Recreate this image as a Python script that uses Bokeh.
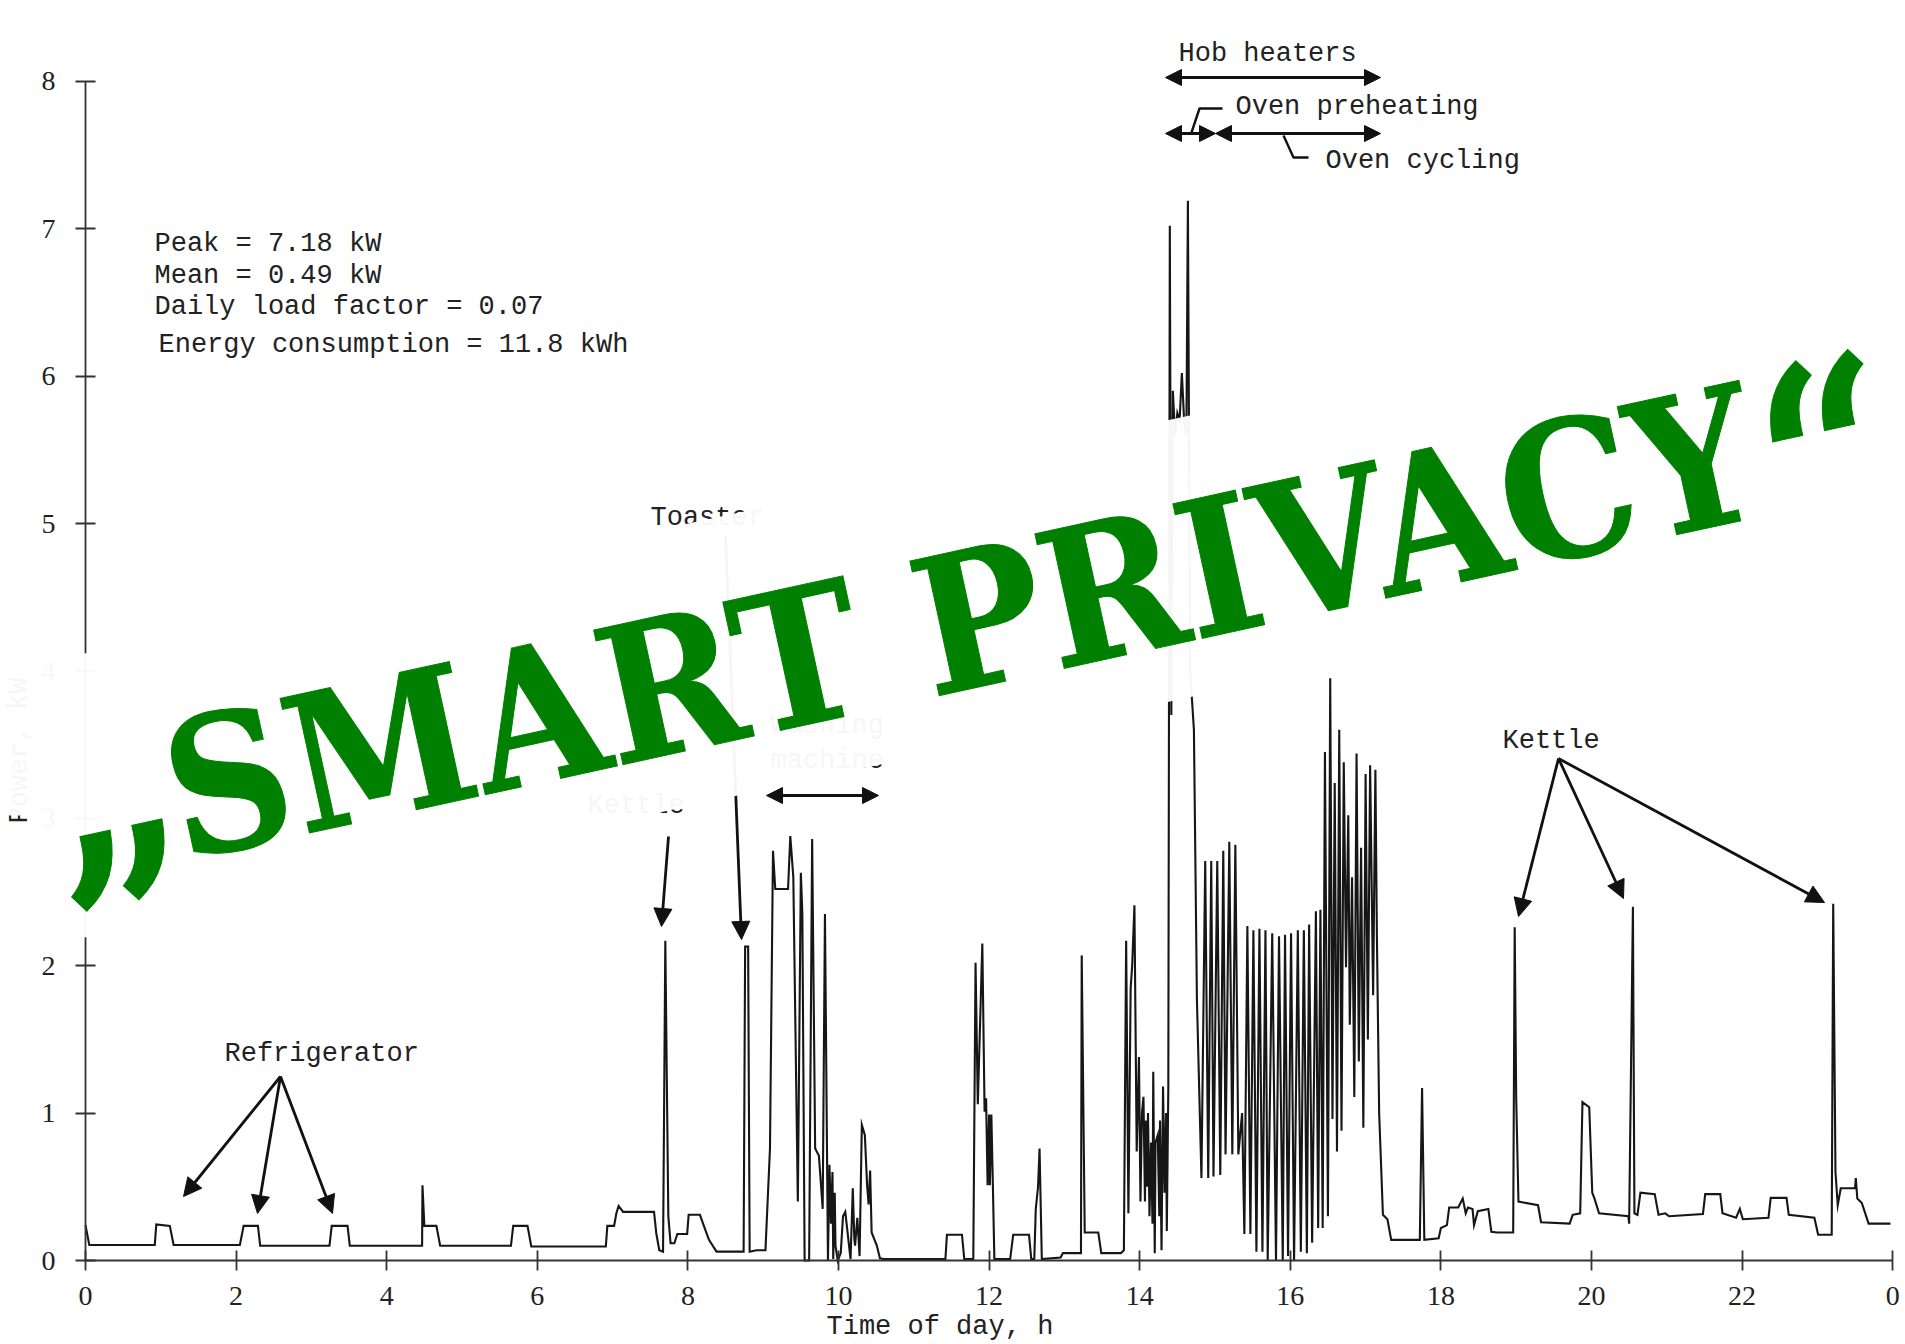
from bokeh.plotting import figure
from bokeh.embed import file_html
from bokeh.resources import INLINE
from bokeh.core.properties import value
from bokeh.models import Range1d, FixedTicker, Arrow, NormalHead

# Trace: time of day (h) and power (kW)
night_h = [0, 0.05, 0.92, 0.94, 1.12, 1.17, 2.05, 2.10, 2.29, 2.32, 3.24, 3.27, 3.48, 3.51, 4.47, 4.475, 4.50, 4.66, 4.71,
           5.65, 5.68, 5.87, 5.92, 6.91, 6.93, 7.02, 7.05, 7.08, 7.14, 7.55, 7.58, 7.62, 7.67]
night_kw = [0.24, 0.105, 0.105, 0.245, 0.235, 0.105, 0.105, 0.235, 0.235, 0.10, 0.10, 0.235, 0.235, 0.10, 0.10, 0.51, 0.235, 0.235, 0.10,
            0.10, 0.235, 0.235, 0.095, 0.095, 0.235, 0.235, 0.32, 0.37, 0.33, 0.33, 0.185, 0.07, 0.06]
morning_h = [7.70, 7.74, 7.77, 7.82, 7.86, 7.99, 8.01, 8.16, 8.23, 8.28, 8.38, 8.74, 8.76, 8.80, 8.82, 8.91, 9.03, 9.09, 9.13, 9.16,
             9.33, 9.36, 9.40, 9.46, 9.50, 9.52, 9.55, 9.61, 9.65, 9.69, 9.74, 9.79, 9.82, 9.86, 9.88, 9.90, 9.92, 9.93, 9.95, 9.96, 9.99,
             10.03, 10.06, 10.09, 10.16, 10.19, 10.21, 10.22, 10.25, 10.28, 10.31, 10.35, 10.38, 10.40, 10.42, 10.44, 10.51, 10.55]
morning_kw = [2.17, 0.30, 0.117, 0.117, 0.18, 0.18, 0.31, 0.31, 0.21, 0.14, 0.06, 0.06, 2.13, 2.13, 0.06, 0.07, 0.07, 0.76, 2.78, 2.52,
              2.52, 2.88, 2.60, 0.40, 2.63, 2.35, 0.0, 0.0, 2.86, 0.76, 0.71, 0.35, 2.35, 0.0, 0.65, 0.25, 0.60, 0.01, 0.46, 0.10, 0.0,
              0.05, 0.30, 0.33, 0.01, 0.49, 0.15, 0.10, 0.29, 0.03, 0.92, 0.85, 0.51, 0.38, 0.61, 0.19, 0.10, 0.015]
midday_h = [11.42, 11.44, 11.64, 11.67, 11.79, 11.82, 11.85, 11.91, 11.94, 11.96, 11.98, 12.0, 12.01, 12.03, 12.05, 12.07, 12.28, 12.32, 12.53, 12.56,
            12.60, 12.62, 12.65, 12.67, 12.70, 12.95, 12.98, 13.22, 13.23, 13.27, 13.45, 13.49, 13.75, 13.79]
midday_kw = [0.01, 0.175, 0.175, 0.01, 0.01, 2.02, 1.06, 2.15, 1.01, 1.10, 0.51, 0.99, 0.51, 0.99, 0.51, 0.01, 0.01, 0.175, 0.175, 0.01,
             0.01, 0.35, 0.50, 0.76, 0.01, 0.02, 0.05, 0.05, 2.07, 0.19, 0.19, 0.05, 0.05, 0.07]
hob_h = [13.82, 13.85, 13.88, 13.90, 13.93, 13.96, 13.99, 14.01, 14.03, 14.05, 14.07, 14.08, 14.10, 14.11, 14.13, 14.15, 14.17, 14.18, 14.20, 14.21, 14.24,
         14.26, 14.27, 14.29, 14.31, 14.33, 14.35, 14.36, 14.38, 14.40, 14.42, 14.44, 14.47, 14.50, 14.53, 14.56, 14.59, 14.62, 14.64, 14.67, 14.72, 14.76]
hob_kw = [2.17, 0.32, 1.85, 2.0, 2.41, 0.74, 1.38, 0.40, 1.00, 1.11, 0.40, 0.95, 0.50, 1.0, 0.30, 0.80, 0.25, 1.28, 0.05, 0.80, 0.85, 0.30, 0.95, 0.07, 1.18, 0.46, 1.0, 0.20, 1.17, 7.02, 3.7, 5.9, 5.6, 5.75, 5.7, 6.02, 5.7, 5.6, 7.19, 4.0, 3.6, 1.77]
oven_h = [14.82, 14.87, 14.91, 14.95, 14.98, 15.03, 15.07, 15.11, 15.14, 15.19, 15.23, 15.27, 15.31, 15.36, 15.39, 15.43, 15.47, 15.51, 15.55,
          15.59, 15.63, 15.67, 15.70, 15.76, 15.81, 15.85, 15.90, 15.93, 15.97, 16.01, 16.05, 16.10, 16.14, 16.18, 16.22, 16.25, 16.29, 16.34,
          16.37, 16.40, 16.43, 16.46, 16.50, 16.53, 16.56, 16.59, 16.62, 16.65, 16.68, 16.71, 16.74, 16.77, 16.79, 16.82, 16.85, 16.88, 16.91, 16.94,
          16.97, 17.00, 17.03, 17.06, 17.10, 17.13, 17.15, 17.18]
oven_kw = [0.56, 2.71, 0.56, 2.71, 0.57, 2.71, 0.58, 2.78, 0.72, 2.84, 0.72, 2.82, 0.72, 1.0, 0.18, 2.27, 0.18, 2.24, 0.06,
           2.25, 0.06, 2.24, 0.0, 2.22, 0.0, 2.20, 0.0, 2.21, 0.03, 2.22, 0.0, 2.24, 0.06, 2.24, 0.05, 2.28, 0.12, 2.37,
           0.22, 2.38, 0.22, 3.45, 0.30, 3.95, 0.96, 3.24, 0.74, 3.60, 0.88, 3.38, 1.99, 3.02, 1.60, 2.6, 1.11, 3.44, 1.35, 2.80,
           0.90, 3.30, 1.50, 3.36, 1.80, 3.33, 2.20, 1.00]
evening_h = [17.23, 17.29, 17.34, 17.72, 17.75, 17.78, 17.97, 18.0, 18.08, 18.11, 18.23, 18.29, 18.33, 18.36, 18.42, 18.44, 18.49, 18.63, 18.67, 18.75,
             18.96, 18.98, 19.00, 19.03, 19.29, 19.33, 19.71, 19.75, 19.85, 19.88, 19.97, 20.01, 20.04, 20.10, 20.49, 20.50, 20.55, 20.57, 20.61,
             20.65, 20.84, 20.89, 20.98, 21.03, 21.48, 21.51, 21.71, 21.74, 21.92, 21.97, 22.01, 22.35, 22.38, 22.59, 22.62, 22.96, 23.01, 23.19,
             23.21, 23.24, 23.27, 23.31, 23.50, 23.51, 23.53, 23.59, 23.68, 23.97]
evening_kw = [0.31, 0.28, 0.14, 0.14, 1.17, 0.14, 0.15, 0.22, 0.24, 0.36, 0.36, 0.42, 0.32, 0.36, 0.35, 0.24, 0.335, 0.35, 0.195, 0.19,
              0.19, 2.26, 1.10, 0.40, 0.375, 0.26, 0.25, 0.31, 0.32, 1.075, 1.04, 0.46, 0.42, 0.32, 0.30, 0.25, 2.40, 0.32, 0.31,
              0.46, 0.45, 0.31, 0.32, 0.30, 0.315, 0.45, 0.45, 0.32, 0.29, 0.35, 0.28, 0.29, 0.425, 0.425, 0.31, 0.29, 0.175, 0.175,
              2.42, 0.60, 0.375, 0.49, 0.49, 0.56, 0.42, 0.39, 0.25, 0.25]

x_ticks = [0, 2, 4, 6, 8, 10, 12, 14, 16, 18, 20, 22, 24]
x_tick_labels = ["0", "2", "4", "6", "8", "10", "12", "14", "16", "18", "20", "22", "0"]
y_ticks = [0, 1, 2, 3, 4, 5, 6, 7, 8]

stats_lines = ["Peak = 7.18 kW", "Mean = 0.49 kW", "Daily load factor = 0.07", "Energy consumption = 11.8 kWh"]
stamp_words = "SMART PRIVACY"
stamp_open = "\u201e"
stamp_close = "\u201c"

# page-pixel calibration of the axes
PX_H = 75.3
PX_KW = 147.4
X0 = 85
Y0 = 1260


def hx(px):
    return (px - X0) / PX_H


def ky(py):
    return (Y0 - py) / PX_KW


time_h = night_h + morning_h + [10.6] + midday_h + hob_h + oven_h + evening_h
power_kw = night_kw + morning_kw + [0.01] + midday_kw + hob_kw + oven_kw + evening_kw

W, H = 1905, 1344
p = figure(width=W, height=H, output_backend="svg", toolbar_location=None,
           x_range=Range1d(hx(0), hx(W)), y_range=Range1d(ky(H), ky(0)),
           min_border=0, min_border_left=0, min_border_right=0, min_border_top=0, min_border_bottom=0)
p.outline_line_color = None
p.grid.visible = False
p.background_fill_color = "white"

for ax in (p.xaxis[0], p.yaxis[0]):
    ax.fixed_location = 0
    ax.axis_line_color = "#333333"
    ax.axis_line_width = 1.8
    ax.major_tick_line_color = "#333333"
    ax.major_tick_line_width = 1.8
    ax.major_tick_in = 10
    ax.major_tick_out = 10
    ax.minor_tick_in = 0
    ax.minor_tick_out = 0
    ax.major_label_text_font = "Liberation Serif"
    ax.major_label_text_font_size = "28px"
    ax.major_label_text_color = "#222222"
p.xaxis[0].ticker = FixedTicker(ticks=x_ticks)
p.xaxis[0].major_label_overrides = dict(zip(x_ticks, x_tick_labels))
p.xaxis[0].major_label_standoff = 16
p.xaxis[0].bounds = (0, 24)
p.yaxis[0].ticker = FixedTicker(ticks=y_ticks)
p.yaxis[0].major_label_standoff = 20
p.yaxis[0].bounds = (0, 8)

p.line(time_h, power_kw, line_color="#161616", line_width=2.1, line_join="miter")

MONO = value("Liberation Mono")


def label(px, py, s, align="left", angle=0.0):
    p.text([hx(px)], [ky(py)], text=[s], text_font=MONO, text_font_size="27px", text_color="#222222",
           text_align=align, text_baseline="middle", angle=angle)


for py, px, s in zip([243, 275, 306, 344], [154, 154, 154, 158], stats_lines):
    label(px, py, s)
label(224, 1053, "Refrigerator")
label(650, 517, "Toaster")
label(587, 805, "Kettle")
label(770, 725, "Washing")
label(770, 760, "machine")
label(1178, 53, "Hob heaters")
label(1235, 106, "Oven preheating")
label(1325, 160, "Oven cycling")
label(1502, 740, "Kettle")
label(826, 1326, "Time of day, h")
label(19, 750, "Power, kW", align="center", angle=1.5708)

# pointer arrows: (from x, from y, to x, to y) in page pixels
one_way = [(280, 1076, 183, 1196), (280, 1076, 257, 1213), (280, 1076, 332, 1213),
           (668, 836, 661, 926), (725, 535, 741, 939),
           (1558, 758, 1518, 916), (1558, 758, 1623, 898), (1558, 758, 1824, 902)]
two_way = [(766, 795, 878, 795), (1165, 77, 1380, 77), (1165, 133, 1215, 133), (1215, 133, 1380, 133)]
for a, b, c, d in one_way:
    p.add_layout(Arrow(end=NormalHead(size=18, fill_color="#111111", line_color="#111111"),
                       x_start=hx(a), y_start=ky(b), x_end=hx(c), y_end=ky(d),
                       line_color="#111111", line_width=2.8, level="glyph"))
for a, b, c, d in two_way:
    p.add_layout(Arrow(start=NormalHead(size=16, fill_color="#111111", line_color="#111111"),
                       end=NormalHead(size=16, fill_color="#111111", line_color="#111111"),
                       x_start=hx(a), y_start=ky(b), x_end=hx(c), y_end=ky(d),
                       line_color="#111111", line_width=2.8, level="glyph"))
for xs, ys in [([1191, 1199, 1222], [132, 108, 108]), ([1283, 1293, 1308], [135, 157, 157])]:
    p.line([hx(v) for v in xs], [ky(v) for v in ys], line_color="#111111", line_width=2.4)

# white halo of the stamp, faint text stays visible below it
halo_x = [0, 84, W, W, 84, 30, 0]
halo_y = [668, 653, 261, 541, 937, 815, 815]
p.patch([hx(v) for v in halo_x], [ky(v) for v in halo_y], fill_color="white", fill_alpha=0.96,
        line_color=None, level="annotation")

STAMP = value("DejaVu Serif Condensed")
p.text([hx(960)], [ky(623)], text=[stamp_words], text_font=STAMP, text_font_style="bold",
       text_font_size="189px", text_color="#008000", text_outline_color="#008000", text_align="center",
       text_baseline="middle", angle=0.2147, level="overlay")
p.text([hx(107)], [ky(778)], text=[stamp_open], text_font=STAMP, text_font_style="bold",
       text_font_size="260px", text_color="#008000", text_outline_color="#008000", text_align="center",
       text_baseline="alphabetic", angle=0.2147, level="overlay")
p.text([hx(1828)], [ky(457)], text=[stamp_close], text_font=STAMP, text_font_style="bold",
       text_font_size="260px", text_color="#008000", text_outline_color="#008000", text_align="center",
       text_baseline="alphabetic", angle=0.2147, level="overlay")

open("out.html", "w").write(file_html(p, INLINE))
